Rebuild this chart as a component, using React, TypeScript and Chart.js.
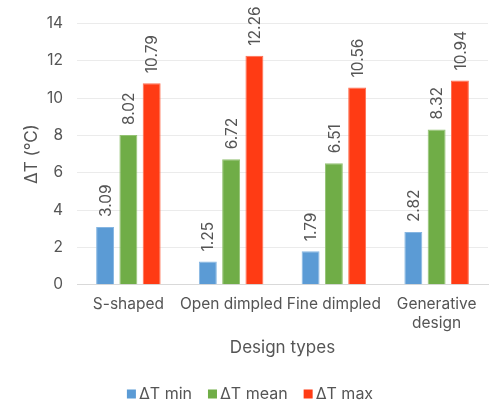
import { useEffect, useRef } from 'react';
import { Chart, registerables } from 'chart.js';

Chart.register(...registerables);

const categories = ['S-shaped', 'Open dimpled', 'Fine dimpled', ['Generative', 'design']];
const seriesNames = ['ΔT min', 'ΔT mean', 'ΔT max'];
const minValues = [3.09, 1.25, 1.79, 2.82];
const meanValues = [8.02, 6.72, 6.51, 8.32];
const maxValues = [10.79, 12.26, 10.56, 10.94];
const seriesColors = ['#5B9BD5', '#70AD47', '#FF3B14'];
const seriesEdges = ['#86B6E2', '#93C273', '#FF6E50'];

const FONT = 'Inter, "Noto Sans", sans-serif';
const TEXT = '#555555';

// rotated value labels above every bar
const valueLabels = {
  id: 'valueLabels',
  afterDatasetsDraw(chart: any) {
    const ctx = chart.ctx;
    ctx.save();
    ctx.font = `15.5px ${FONT}`;
    ctx.fillStyle = TEXT;
    ctx.textAlign = 'left';
    ctx.textBaseline = 'middle';
    chart.data.datasets.forEach((ds: any, i: number) => {
      const meta = chart.getDatasetMeta(i);
      meta.data.forEach((bar: any, j: number) => {
        ctx.save();
        ctx.translate(bar.x, bar.y - 10);
        ctx.rotate(-Math.PI / 2);
        ctx.fillText(ds.data[j].toFixed(2), 0, 1);
        ctx.restore();
      });
    });
    ctx.restore();
  },
};

// compact legend at the bottom, centred on the canvas
const bottomLegend = {
  id: 'bottomLegend',
  afterDraw(chart: any) {
    const ctx = chart.ctx;
    const box = 9;
    const gap = 3;
    const itemGap = 16;
    const y = 394;
    ctx.save();
    ctx.font = `16px ${FONT}`;
    ctx.textBaseline = 'middle';
    ctx.textAlign = 'left';
    const widths = seriesNames.map((n) => ctx.measureText(n).width);
    const total =
      widths.reduce((a, b) => a + b, 0) + seriesNames.length * (box + gap) + (seriesNames.length - 1) * itemGap;
    let x = chart.width / 2 - total / 2;
    seriesNames.forEach((n, i) => {
      ctx.fillStyle = seriesColors[i];
      ctx.fillRect(x, y - box / 2, box, box);
      x += box + gap;
      ctx.fillStyle = TEXT;
      ctx.fillText(n, x, y);
      x += widths[i] + itemGap;
    });
    ctx.restore();
  },
};

export default function App() {
  const canvasRef = useRef<HTMLCanvasElement>(null);
  const chartRef = useRef<Chart | null>(null);

  useEffect(() => {
    document.body.style.margin = '0';
    if (!canvasRef.current) return;
    if (chartRef.current) chartRef.current.destroy();

    chartRef.current = new Chart(canvasRef.current, {
      type: 'bar',
      data: {
        labels: categories as any,
        datasets: [minValues, meanValues, maxValues].map((d, i) => ({
          label: seriesNames[i],
          data: d,
          backgroundColor: seriesColors[i],
          borderColor: seriesEdges[i],
          borderWidth: 1,
          categoryPercentage: 0.68,
          barPercentage: 0.77,
        })),
      },
      options: {
        animation: false,
        responsive: true,
        maintainAspectRatio: false,
        layout: { padding: { top: 23, left: 22, right: 12, bottom: 46 } },
        plugins: {
          legend: { display: false },
          tooltip: { enabled: false },
        },
        scales: {
          x: {
            grid: { display: false, drawTicks: false },
            border: { color: '#D9D9D9', width: 1 },
            ticks: {
              color: TEXT,
              font: { family: FONT, size: 15.5, lineHeight: 1.22 },
              maxRotation: 0,
              autoSkip: false,
              padding: 10,
            },
            title: {
              display: true,
              text: 'Design types',
              color: TEXT,
              font: { family: FONT, size: 17 },
              padding: { top: -5, bottom: 0 },
            },
          },
          y: {
            min: 0,
            max: 14,
            afterFit: (scale: any) => {
              scale.width = 55;
            },
            grid: { color: '#EBEBEB', drawTicks: false },
            border: { display: false },
            ticks: {
              stepSize: 2,
              color: TEXT,
              font: { family: FONT, size: 15.5 },
              padding: 14,
            },
            title: {
              display: true,
              text: 'ΔT (°C)',
              color: TEXT,
              font: { family: FONT, size: 17 },
              padding: { top: 0, bottom: 0 },
            },
          },
        },
      },
      plugins: [valueLabels, bottomLegend],
    });

    return () => {
      if (chartRef.current) {
        chartRef.current.destroy();
        chartRef.current = null;
      }
    };
  }, []);

  return (
    <div style={{ position: 'relative', width: 500, height: 404, background: '#fff' }}>
      <canvas ref={canvasRef}></canvas>
    </div>
  );
}
